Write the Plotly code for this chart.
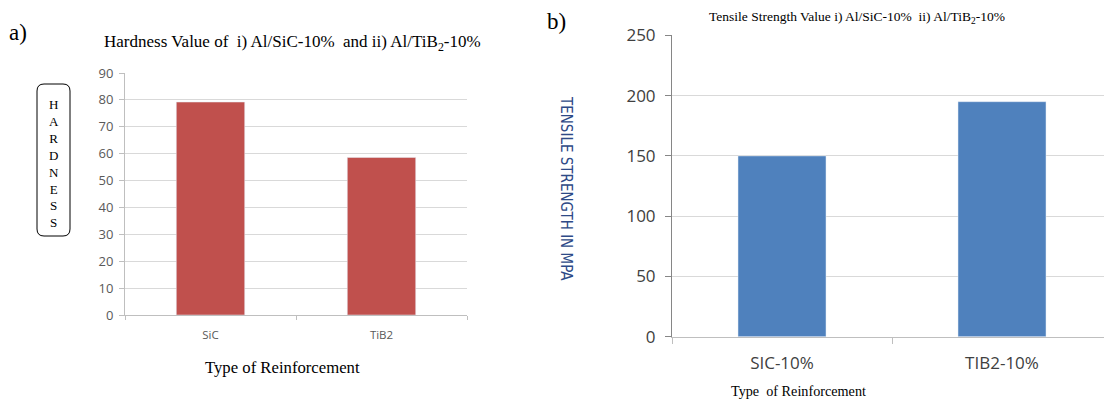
import plotly.graph_objects as go

# ---- data ----
hard_categories = ["SiC", "TiB2"]
hard_values = [79.2, 58.6]
hard_ticks = [0, 10, 20, 30, 40, 50, 60, 70, 80, 90]

ts_categories = ["SIC-10%", "TIB2-10%"]
ts_values = [150, 195]
ts_ticks = [0, 50, 100, 150, 200, 250]

OFF = 8  # default page body margin
W, H = 1112 - OFF, 401 - OFF
def px(x):
    return (x - OFF) / W
def py(y):
    return 1 - (y - OFF) / H

SERIF = "Liberation Serif, Times New Roman, serif"
SANS = "Open Sans, Liberation Sans, sans-serif"

fig = go.Figure()
fig.add_trace(go.Bar(x=hard_categories, y=hard_values, marker_color="#C0504D",
                     width=0.4, xaxis="x", yaxis="y", showlegend=False))
fig.add_trace(go.Bar(x=ts_categories, y=ts_values, marker_color="#4F81BD",
                     width=0.4, xaxis="x2", yaxis="y2", showlegend=False))

fig.update_layout(
    width=W, height=H, margin=dict(l=0, r=0, t=0, b=0, autoexpand=False),
    paper_bgcolor="white", plot_bgcolor="white",
    xaxis=dict(domain=[px(125), px(467)], anchor="y", showline=True, linecolor="#BFBFBF",
               ticks="outside", tickson="boundaries", ticklen=4, tickcolor="#BFBFBF",
               automargin=False, ticklabelstandoff=9,
               tickfont=dict(family=SANS, size=11.5, color="#595959"), showgrid=False),
    yaxis=dict(domain=[py(315), py(73)], anchor="x", range=[0, 90], tickvals=hard_ticks,
               showline=True, linecolor="#BFBFBF", ticks="outside", ticklen=5,
               tickcolor="#BFBFBF", gridcolor="#D9D9D9", zeroline=False, automargin=False,
               ticklabelstandoff=3,
               tickfont=dict(family=SANS, size=13, color="#595959")),
    xaxis2=dict(domain=[px(672), 1.0], anchor="y2", showline=True, linecolor="#BFBFBF",
                ticks="outside", tickson="boundaries", ticklen=6, tickcolor="#BFBFBF",
                automargin=False, ticklabelstandoff=11,
                tickfont=dict(family=SANS, size=17, color="#404040"), showgrid=False),
    yaxis2=dict(domain=[py(336.7), py(35.4)], anchor="x2", range=[0, 250], tickvals=ts_ticks,
                showline=True, linecolor="#868686", ticks="outside", ticklen=6,
                tickcolor="#868686", gridcolor="#D9D9D9", zeroline=False, automargin=False,
                ticklabelstandoff=6,
                tickfont=dict(family=SANS, size=17, color="#404040")),
    bargap=0.6,
)

ann = [
    dict(text="a)", x=px(7), y=py(33), xanchor="left", yanchor="middle",
         font=dict(family=SERIF, size=23, color="black")),
    dict(text="b)", x=px(545), y=py(22), xanchor="left", yanchor="middle",
         font=dict(family=SERIF, size=23, color="black")),
    dict(text="Hardness Value of  i) Al/SiC-10%  and ii) Al/TiB<sub>2</sub>-10%",
         x=px(292), y=py(43), xanchor="center", yanchor="middle",
         font=dict(family=SERIF, size=17, color="black")),
    dict(text="Tensile Strength Value i) Al/SiC-10%  ii) Al/TiB<sub>2</sub>-10%",
         x=px(857), y=py(17), xanchor="center", yanchor="middle",
         font=dict(family=SERIF, size=13.5, color="black")),
    dict(text="H<br>A<br>R<br>D<br>N<br>E<br>S<br>S", x=px(53.5), y=py(163),
         xanchor="center", yanchor="middle",
         font=dict(family=SERIF, size=13, color="black")),
    dict(text="Type of Reinforcement", x=px(282), y=py(367), xanchor="center", yanchor="middle",
         font=dict(family=SERIF, size=16.7, color="black")),
    dict(text="Type  of Reinforcement", x=px(729), y=py(391), xanchor="left", yanchor="middle",
         font=dict(family=SERIF, size=14.2, color="black")),
    dict(text="TENSILE STRENGTH IN MPA", x=px(566), y=py(188), textangle=90,
         xanchor="center", yanchor="middle",
         font=dict(family="DejaVu Sans Condensed, Liberation Sans Narrow, sans-serif",
                   size=15, color="#2E4A87")),
]
for a in ann:
    a.update(xref="paper", yref="paper", showarrow=False)
fig.update_layout(annotations=ann)

# rounded box around HARDNESS
x0, x1, y0, y1, r = 37, 70, 84, 236, 7
path = (f"M {px(x0+r)},{py(y0)} L {px(x1-r)},{py(y0)} Q {px(x1)},{py(y0)} {px(x1)},{py(y0+r)} "
        f"L {px(x1)},{py(y1-r)} Q {px(x1)},{py(y1)} {px(x1-r)},{py(y1)} "
        f"L {px(x0+r)},{py(y1)} Q {px(x0)},{py(y1)} {px(x0)},{py(y1-r)} "
        f"L {px(x0)},{py(y0+r)} Q {px(x0)},{py(y0)} {px(x0+r)},{py(y0)} Z")
fig.add_shape(type="path", path=path, xref="paper", yref="paper",
              line=dict(color="black", width=1))

fig.write_html("out.html")
